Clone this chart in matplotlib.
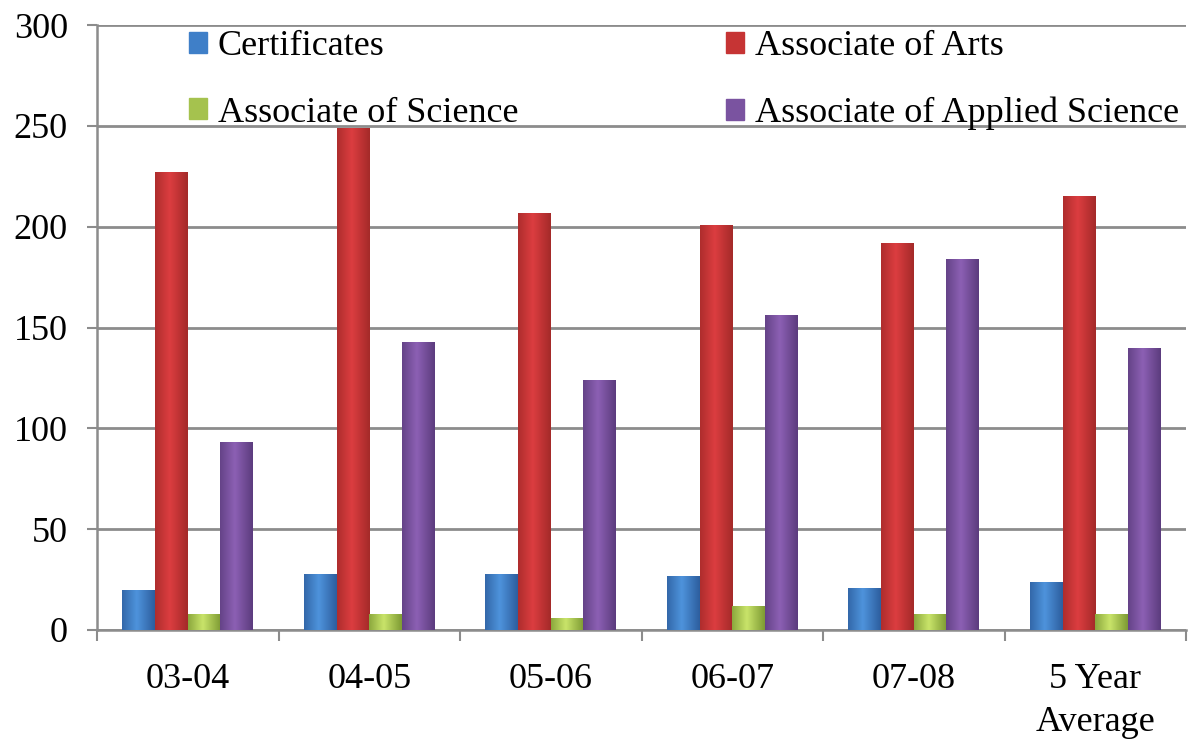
import numpy as np
import matplotlib
matplotlib.use("Agg")
import matplotlib.pyplot as plt
from matplotlib.colors import LinearSegmentedColormap

categories = ["03-04", "04-05", "05-06", "06-07", "07-08", "5 Year\nAverage"]
series_names = ["Certificates", "Associate of Arts", "Associate of Science",
                "Associate of Applied Science"]
certificates = [20, 28, 28, 27, 21, 24]
assoc_arts = [227, 249, 207, 201, 192, 215]
assoc_science = [8, 8, 6, 12, 8, 8]
assoc_applied = [93, 143, 124, 156, 184, 140]
yticks = [0, 50, 100, 150, 200, 250, 300]

series = [certificates, assoc_arts, assoc_science, assoc_applied]
# (edge dark, center light) colours for a cylindrical shading
shades = [("#2D5E9E", "#4E93DC"),
          ("#A42A29", "#DC3D40"),
          ("#7E9B34", "#C9E46A"),
          ("#5C3C7E", "#8C60B4")]
legend_colors = ["#3F7FC8", "#C63434", "#A5C24E", "#7A53A0"]

plt.rcParams['font.family'] = ['Liberation Serif', 'DejaVu Serif']
fig = plt.figure(figsize=(11.91, 7.45), dpi=100)
ax = fig.add_axes([97/1191, 1 - 630/745, (1186-97)/1191, (630-25)/745])

x = np.arange(len(categories))
width = 0.18
offsets = (np.arange(4) - 1.5) * width

grad = np.linspace(0, 1, 64)
grad = 1 - np.abs(grad - 0.45) / 0.55
grad = np.clip(grad, 0, 1)[None, :]

for i, (vals, (dark, light)) in enumerate(zip(series, shades)):
    bars = ax.bar(x + offsets[i], vals, width, color=legend_colors[i],
                  edgecolor="none", zorder=3, label=series_names[i])
    cmap = LinearSegmentedColormap.from_list("c%d" % i, [dark, light])
    for b in bars:
        bx, by = b.get_x(), b.get_y()
        bw, bh = b.get_width(), b.get_height()
        im = ax.imshow(grad, cmap=cmap, extent=(bx, bx + bw, by, by + bh),
                       aspect="auto", zorder=3.5, vmin=0, vmax=1,
                       interpolation="bicubic")
        im.set_clip_path(b)

ax.set_xlim(-0.5, len(categories) - 0.5)
ax.set_ylim(0, 300)
ax.set_yticks(yticks)
ax.set_yticklabels([str(v) for v in yticks])
ax.set_xticks(x)
ax.set_xticklabels(categories, linespacing=1.4)
ax.set_xticks(np.arange(len(categories) + 1) - 0.5, minor=True)

ax.yaxis.grid(True, color="#8C8C8C", linewidth=2, zorder=1)
ax.set_axisbelow(True)
for s in ["top", "right"]:
    ax.spines[s].set_visible(False)
for s in ["left", "bottom"]:
    ax.spines[s].set_color("#8C8C8C")
    ax.spines[s].set_linewidth(1.8)

ax.tick_params(axis="y", length=7, width=1.5, color="#8C8C8C", pad=14,
               labelsize=26)
ax.tick_params(axis="x", which="major", length=0, pad=24, labelsize=26)
ax.tick_params(axis="x", which="minor", length=8, width=1.5,
               color="#8C8C8C")

# row-major order for a 2-column legend
order = [0, 2, 1, 3]
handles = [plt.Rectangle((0, 0), 1, 1, color=legend_colors[k]) for k in order]
labels = [series_names[k] for k in order]
ax.legend(handles, labels, ncol=2, loc="upper left",
          bbox_to_anchor=(0.071, 1.015), frameon=False, fontsize=26,
          handlelength=0.5, handleheight=0.5, handletextpad=0.3,
          columnspacing=5.75, labelspacing=0.92, borderaxespad=0)

fig.savefig("out.png", dpi=100)
